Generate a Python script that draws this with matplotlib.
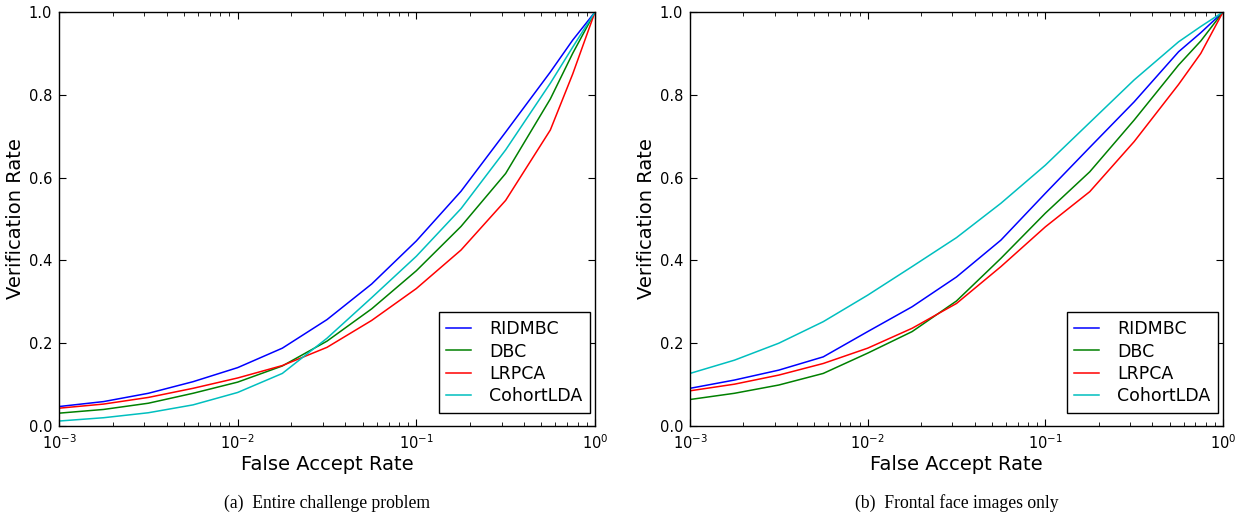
import numpy as np
import matplotlib
matplotlib.use("Agg")
import matplotlib.pyplot as plt

# false accept rate sample points (log10)
log_far = [-3, -2.75, -2.5, -2.25, -2, -1.75, -1.5, -1.25, -1, -0.75, -0.5, -0.25, -0.125, 0]
methods = ["RIDMBC", "DBC", "LRPCA", "CohortLDA"]
colors = ["b", "g", "r", "c"]

# (a) entire challenge problem
vr_all = {
    "RIDMBC":    [0.047, 0.059, 0.079, 0.107, 0.141, 0.188, 0.257, 0.343, 0.447, 0.567, 0.710, 0.855, 0.932, 1.0],
    "DBC":       [0.031, 0.040, 0.055, 0.079, 0.106, 0.145, 0.205, 0.283, 0.375, 0.482, 0.610, 0.790, 0.900, 1.0],
    "LRPCA":     [0.043, 0.053, 0.069, 0.091, 0.116, 0.146, 0.190, 0.255, 0.332, 0.425, 0.545, 0.715, 0.850, 1.0],
    "CohortLDA": [0.012, 0.020, 0.032, 0.051, 0.081, 0.127, 0.212, 0.310, 0.410, 0.525, 0.667, 0.828, 0.915, 1.0],
}
# (b) frontal face images only
vr_frontal = {
    "RIDMBC":    [0.091, 0.111, 0.135, 0.167, 0.228, 0.288, 0.360, 0.449, 0.562, 0.673, 0.783, 0.904, 0.950, 1.0],
    "DBC":       [0.064, 0.079, 0.099, 0.127, 0.176, 0.228, 0.302, 0.405, 0.514, 0.614, 0.739, 0.872, 0.930, 1.0],
    "LRPCA":     [0.085, 0.101, 0.123, 0.151, 0.188, 0.236, 0.296, 0.385, 0.481, 0.566, 0.687, 0.825, 0.900, 1.0],
    "CohortLDA": [0.127, 0.159, 0.200, 0.252, 0.316, 0.385, 0.455, 0.538, 0.630, 0.733, 0.836, 0.928, 0.965, 1.0],
}
captions = ["(a)  Entire challenge problem", "(b)  Frontal face images only"]

far = 10.0 ** np.array(log_far)

fig = plt.figure(figsize=(12.41, 5.16), dpi=100)
ax1 = fig.add_axes([59/1241, 90/516, 536/1241, 414/516])
ax2 = fig.add_axes([690/1241, 90/516, 533/1241, 414/516])

for ax, data, cap in [(ax1, vr_all, captions[0]), (ax2, vr_frontal, captions[1])]:
    for m, c in zip(methods, colors):
        ax.plot(far, data[m], color=c, lw=1.1, label=m)
    ax.set_xscale("log")
    ax.set_xlim(1e-3, 1)
    ax.set_ylim(0, 1)
    ax.set_yticks([0, 0.2, 0.4, 0.6, 0.8, 1.0])
    ax.set_yticklabels(["0.0", "0.2", "0.4", "0.6", "0.8", "1.0"])
    ax.tick_params(which="both", direction="in", top=True, right=True, labelsize=10.5)
    ax.tick_params(which="major", length=5, pad=5)
    ax.tick_params(which="minor", length=3)
    ax.set_xlabel("False Accept Rate", fontsize=14)
    ax.set_ylabel("Verification Rate", fontsize=14)
    ax.xaxis.set_label_coords(0.5, -0.07)
    ax.yaxis.set_label_coords(-0.064, 0.5)
    for s in ax.spines.values():
        s.set_linewidth(1.0)
    leg = ax.legend(loc="lower right", bbox_to_anchor=(0.9907, 0.0314), borderaxespad=0,
                    fontsize=12.5, fancybox=False, framealpha=1, edgecolor="black",
                    handlelength=1.4, handletextpad=1.05, labelspacing=0.25, borderpad=0.45)
    leg.get_frame().set_linewidth(1.0)
    pos = ax.get_position()
    fig.text((pos.x0 + pos.x1) / 2, 13/516, cap, ha="center", va="center",
             fontsize=12.7, family="Liberation Serif")

fig.savefig("out.png", dpi=100)
